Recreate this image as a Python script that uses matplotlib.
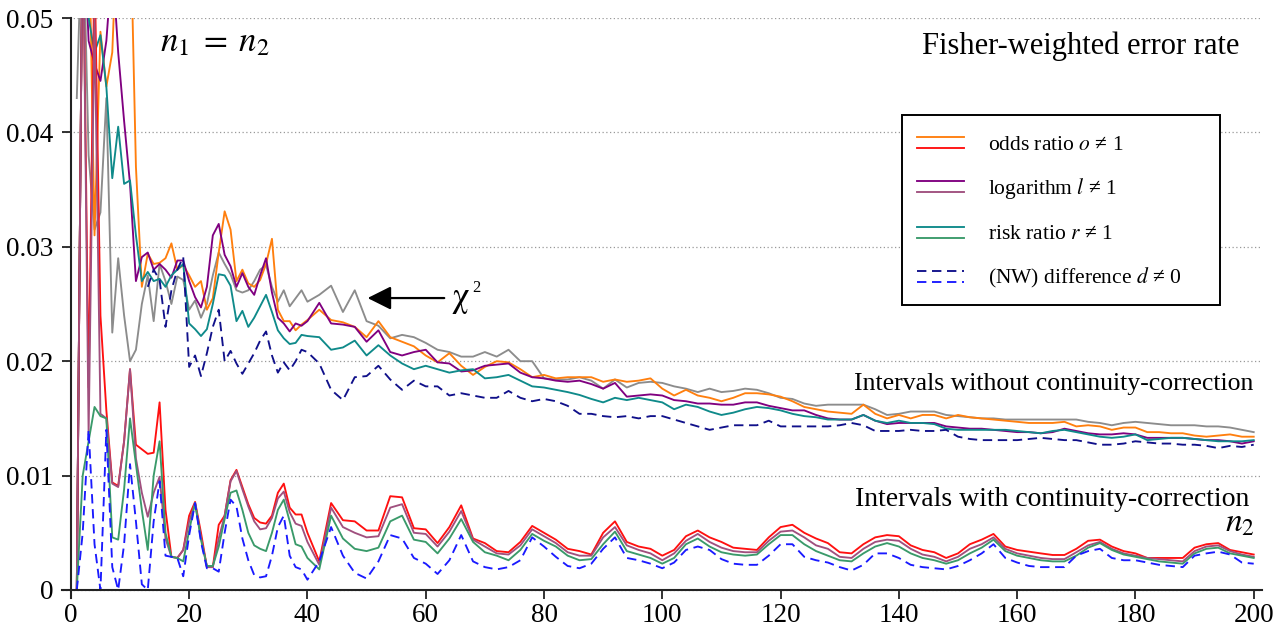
import matplotlib
matplotlib.use("Agg")
import matplotlib.pyplot as plt
import numpy as np
from matplotlib.legend_handler import HandlerBase
from matplotlib.lines import Line2D

plt.rcParams["font.family"] = ["Liberation Serif", "DejaVu Serif"]
plt.rcParams["mathtext.fontset"] = "stix"

# n2 grid: every unit up to 40, then every second unit
N2 = list(range(1, 41)) + list(range(42, 201, 2))

# error rates in 1/1000, intervals WITHOUT continuity correction
odds_plain = [
    0, 60, 60, 31, 48.8, 44, 47, 60, 60, 60,
    37, 26.5, 29.4, 28.5, 28.6, 29.0, 30.3, 28.0, 28.4, 27.5,
    26.5, 27.0, 24.5, 25.5, 29.5, 33.1, 31.5, 27.0, 28.0, 26.8,
    26.5, 27.1, 28.5, 30.7, 24.5, 23.5, 23.5, 22.7, 23.2, 23.6,
    24.5, 23.6, 23.4, 23.0, 22.1, 23.5, 22.1, 21.7, 21.3, 20.5,
    19.9, 20.7, 19.6, 18.8, 19.5, 20.0, 19.9, 19.3, 18.6, 18.8,
    18.5, 18.6, 18.6, 18.6, 18.2, 18.4, 18.2, 18.3, 18.5, 17.6,
    17.0, 17.5, 17.0, 16.8, 16.5, 16.8, 17.2, 17.2, 17.1, 16.9,
    16.5, 16.0, 15.8, 15.6, 15.5, 15.4, 16.2, 15.4, 15.0, 15.3,
    15.0, 15.3, 15.3, 15.0, 15.3, 15.1, 15.0, 14.9, 14.8, 14.7,
    14.6, 14.6, 14.6, 14.7, 14.3, 14.4, 14.3, 14.0, 14.2, 14.2,
    13.8, 13.8, 13.7, 13.7, 13.5, 13.4, 13.5, 13.6, 13.4, 13.4,
]
log_plain = [
    0, 60, 48, 46, 44.5, 48, 55, 47, 41, 35.5,
    27, 29.1, 29.5, 28.0, 28.5, 28.0, 27.3, 28.8, 28.8, 27.0,
    25.6, 24.7, 26.5, 31.0, 32.0, 29.3, 28.3, 26.5, 27.7, 26.5,
    25.8, 27.5, 29.0, 26.0, 23.8, 23.3, 22.6, 23.3, 23.1, 23.5,
    25.1, 23.3, 23.2, 23.0, 21.7, 22.7, 20.8, 20.5, 20.8, 21.0,
    19.9, 19.8, 19.1, 19.2, 19.6, 19.7, 19.8, 19.0, 18.6, 18.5,
    18.3, 18.2, 18.3, 18.0, 17.6, 18.1, 16.9, 17.0, 17.1, 17.0,
    16.6, 16.5, 16.3, 16.3, 16.2, 16.2, 16.4, 16.4, 16.1, 15.9,
    15.7, 15.7, 15.3, 15.0, 14.9, 14.9, 15.3, 14.8, 14.5, 14.6,
    14.6, 14.6, 14.6, 14.3, 14.2, 14.1, 14.1, 14.0, 13.9, 13.8,
    13.8, 13.7, 13.8, 14.1, 13.9, 13.7, 13.6, 13.6, 13.7, 13.6,
    13.3, 13.3, 13.3, 13.3, 13.2, 13.1, 13.1, 13.0, 12.8, 13.0,
]
risk_plain = [
    0, 60, 50, 47, 48.5, 44, 36, 40.5, 35.5, 35.8,
    31, 27, 27.8, 27.0, 27.2, 26.5, 27.5, 28.0, 28.5, 23.3,
    22.8, 22.2, 22.8, 25.0, 27.6, 27.5, 26.6, 23.5, 24.4, 23.0,
    23.8, 24.8, 25.8, 24.3, 22.7, 22.0, 21.5, 21.6, 22.3, 22.2,
    22.1, 21.0, 21.2, 21.8, 20.5, 21.4, 20.5, 19.8, 19.3, 19.6,
    19.3, 19.0, 19.2, 19.3, 18.5, 18.6, 18.8, 18.3, 17.8, 17.7,
    17.5, 17.3, 17.05, 16.7, 16.4, 16.8, 16.6, 16.8, 16.6, 16.4,
    15.8, 16.2, 16.0, 15.6, 15.3, 15.5, 15.8, 16.0, 15.9, 15.7,
    15.4, 15.2, 15.1, 14.9, 14.9, 14.9, 15.3, 14.8, 14.6, 14.8,
    14.6, 14.6, 14.5, 14.1, 14.0, 14.0, 14.0, 14.0, 14.0, 13.9,
    13.8, 13.7, 13.9, 14.0, 13.8, 13.6, 13.4, 13.3, 13.4, 13.6,
    13.1, 13.2, 13.3, 13.3, 13.2, 13.1, 13.0, 13.0, 13.0, 13.1,
]
diff_plain = [
    np.nan, np.nan, np.nan, np.nan, np.nan, np.nan, np.nan, np.nan, np.nan, np.nan,
    np.nan, np.nan, 26.5, 28.0, 27.1, 23.0, 26.2, 28.0, 29.1, 19.5,
    20.5, 18.7, 20.7, 23.0, 24.5, 20.0, 20.9, 19.8, 18.9, 19.8,
    20.7, 21.8, 22.6, 20.5, 19.0, 19.9, 19.2, 20.0, 21.0, 20.8,
    19.8, 17.5, 16.6, 18.6, 18.7, 19.6, 18.4, 17.5, 18.3, 17.8,
    17.8, 17.0, 17.2, 17.0, 16.8, 16.8, 17.4, 16.8, 16.5, 16.7,
    16.5, 16.1, 15.4, 15.4, 15.2, 15.1, 15.2, 15.0, 15.2, 15.2,
    14.9, 14.6, 14.3, 14.0, 14.2, 14.4, 14.4, 14.4, 14.8, 14.3,
    14.3, 14.3, 14.3, 14.3, 14.4, 14.6, 14.4, 13.9, 13.9, 13.9,
    14.0, 13.9, 13.9, 14.0, 13.4, 13.2, 13.1, 13.1, 13.1, 13.1,
    13.2, 13.3, 13.2, 13.1, 13.1, 12.9, 12.7, 12.7, 12.8, 13.0,
    12.9, 12.8, 12.8, 12.7, 12.7, 12.6, 12.4, 12.6, 12.5, 12.7,
]
chi2_plain = [
    43, 60, 38, 31.5, 33, 43, 22.5, 29, 24, 20,
    21, 25, 27.5, 23.5, 28.5, 27.0, 25.0, 27.4, 27.1, 24.5,
    25.3, 23.8, 25.0, 27.5, 29.5, 28.5, 27.6, 26.2, 26.0, 26.2,
    27.0, 28.0, 28.4, 26.5, 25.2, 26.2, 24.8, 25.5, 26.2, 25.2,
    25.8, 26.6, 24.3, 26.2, 23.5, 23.1, 22.0, 22.3, 22.1, 21.6,
    21.0, 20.8, 20.4, 20.4, 20.8, 20.4, 21.0, 20.0, 20.0, 18.5,
    18.4, 18.4, 18.6, 18.3, 17.6, 18.4, 17.7, 18.1, 18.2, 18.1,
    17.8, 17.6, 17.3, 17.6, 17.3, 17.4, 17.6, 17.5, 17.2, 16.8,
    16.7, 16.3, 16.1, 16.2, 16.2, 16.2, 16.2, 15.8, 15.3, 15.4,
    15.6, 15.6, 15.6, 15.3, 15.2, 15.1, 15.0, 15.0, 14.9, 14.9,
    14.9, 14.9, 14.9, 14.9, 14.9, 14.7, 14.6, 14.4, 14.6, 14.7,
    14.6, 14.5, 14.4, 14.4, 14.4, 14.3, 14.3, 14.2, 14.0, 13.8,
]

# error rates in 1/1000, intervals WITH continuity correction
odds_cc = [
    0, 60, 17.7, 55, 24, 15.7, 9.4, 9.1, 13, 19.3,
    12.7, 12.3, 11.9, 12.0, 16.4, 7.0, 2.9, 2.8, 3.5, 6.5,
    7.7, 5.0, 2.0, 2.0, 5.7, 6.5, 9.6, 10.5, 9.0, 7.5,
    6.3, 5.9, 5.8, 6.5, 8.5, 9.3, 7.2, 6.6, 6.6, 5.0,
    2.5, 7.6, 6.1, 6.0, 5.2, 5.2, 8.2, 8.1, 5.4, 5.3,
    4.1, 5.5, 7.4, 4.5, 4.1, 3.4, 3.3, 4.2, 5.6, 5.0,
    4.4, 3.6, 3.4, 3.1, 5.0, 6.0, 4.2, 3.8, 3.6, 3.0,
    3.5, 4.7, 5.2, 4.6, 4.2, 3.7, 3.6, 3.5, 4.6, 5.5,
    5.7, 5.0, 4.5, 4.1, 3.3, 3.2, 4.0, 4.6, 4.8, 4.7,
    3.9, 3.5, 3.3, 2.8, 3.2, 4.0, 4.4, 4.9, 3.8, 3.5,
    3.35, 3.2, 3.06, 3.06, 3.6, 4.3, 4.4, 3.8, 3.4, 3.2,
    2.8, 2.8, 2.8, 2.8, 3.7, 4.0, 4.1, 3.5, 3.3, 3.1,
]
log_cc = [
    0, 60, 13.6, 50, 15.4, 15.0, 9.3, 9.0, 13, 19.3,
    11.5, 8.5, 6.4, 8.5, 9.9, 4.5, 2.9, 2.8, 3.5, 6.0,
    7.6, 4.6, 2.0, 2.0, 4.5, 6.5, 9.5, 10.4, 8.8, 7.3,
    6.0, 5.3, 5.4, 6.3, 8.0, 8.6, 6.8, 5.8, 5.6, 4.2,
    2.2, 7.2, 5.5, 5.0, 4.6, 4.7, 7.2, 7.5, 5.0, 4.9,
    3.8, 5.1, 6.9, 4.4, 3.8, 3.2, 3.1, 3.9, 5.3, 4.7,
    4.1, 3.3, 3.0, 3.0, 4.6, 5.5, 3.9, 3.5, 3.2, 2.6,
    3.2, 4.3, 4.9, 4.2, 3.7, 3.4, 3.3, 3.3, 4.3, 5.1,
    5.2, 4.6, 3.9, 3.6, 2.9, 2.8, 3.6, 4.2, 4.4, 4.3,
    3.6, 3.1, 2.9, 2.5, 2.9, 3.6, 4.0, 4.6, 3.6, 3.2,
    3.0, 2.8, 2.7, 2.7, 3.3, 3.9, 4.2, 3.6, 3.2, 3.0,
    2.8, 2.7, 2.6, 2.5, 3.4, 3.8, 3.9, 3.4, 3.1, 2.9,
]
risk_cc = [
    0, 10, 13, 16, 15.2, 15.0, 4.6, 4.4, 8.8, 15.0,
    11.0, 7.0, 3.5, 10.0, 13.0, 5.0, 2.9, 2.8, 2.5, 5.2,
    7.6, 4.4, 2.1, 2.1, 3.8, 6.2, 8.5, 8.7, 7.0, 5.0,
    3.9, 3.6, 3.4, 5.0, 7.0, 7.9, 6.0, 4.0, 3.8, 2.8,
    1.8, 6.5, 4.5, 3.6, 3.4, 3.7, 6.0, 6.5, 4.4, 4.2,
    3.2, 4.5, 6.2, 4.2, 3.3, 3.0, 2.6, 3.5, 4.9, 4.3,
    3.8, 3.0, 2.6, 2.7, 4.0, 5.1, 3.4, 3.1, 2.8, 2.3,
    2.8, 4.0, 4.5, 3.8, 3.3, 3.1, 3.0, 3.1, 4.0, 4.8,
    4.8, 4.0, 3.4, 3.0, 2.6, 2.5, 3.2, 3.8, 4.1, 3.8,
    3.2, 2.8, 2.6, 2.3, 2.6, 3.2, 3.7, 4.4, 3.4, 3.0,
    2.8, 2.6, 2.5, 2.5, 3.0, 3.7, 4.1, 3.5, 3.1, 2.9,
    2.7, 2.5, 2.4, 2.3, 3.2, 3.6, 3.7, 3.2, 3.0, 2.8,
]
diff_cc = [
    0, 5, 14, 4, 0, 14, 2, 0, 4, 11,
    6, 0.5, 0, 6, 9.5, 3, 2.9, 2.8, 1.2, 4.8,
    7.6, 4.2, 1.9, 1.9, 1.6, 5.0, 7.9, 7.3, 4.5, 2.6,
    1.3, 1.1, 1.2, 3.0, 5.5, 6.5, 3.0, 2.0, 1.8, 0.9,
    2.5, 5.5, 3.0, 1.5, 1.0, 2.5, 4.8, 4.5, 2.8, 2.3,
    1.4, 2.6, 4.8, 2.5, 2.0, 1.8, 2.0, 2.6, 4.6, 3.8,
    2.9, 2.1, 1.9, 2.3, 3.6, 4.6, 2.8, 2.6, 2.3, 1.9,
    2.4, 3.5, 3.8, 3.5, 2.7, 2.3, 2.2, 2.2, 3.0, 4.0,
    4.0, 2.9, 2.6, 2.4, 2.0, 1.7, 2.2, 3.2, 3.2, 2.8,
    2.2, 2.0, 1.9, 1.8, 2.1, 2.6, 3.2, 4.0, 2.8, 2.4,
    2.1, 2.0, 2.0, 2.0, 3.0, 3.4, 3.6, 2.8, 2.6, 2.6,
    2.4, 2.2, 2.1, 2.0, 3.0, 3.2, 3.35, 3.1, 2.4, 2.3,
]

legend_labels = [
    "odds ratio $o$ \u2260 1",
    "logarithm $l$ \u2260 1",
    "risk ratio $r$ \u2260 1",
    "(NW) difference $d$ \u2260 0",
]

DASH = (0, (5, 3))


class PairHandler(HandlerBase):
    # two stacked sample lines per legend entry
    def create_artists(self, legend, orig_handle, xdescent, ydescent,
                       width, height, fontsize, trans):
        out = []
        for k, src in enumerate(orig_handle):
            y = -ydescent + height * (0.72 - 0.44 * k)
            ln = Line2D([-xdescent, -xdescent + width], [y, y])
            ln.update_from(src)
            ln.set_transform(trans)
            out.append(ln)
        return out


fig = plt.figure(figsize=(12.83, 6.32), dpi=100)
ax = fig.add_axes([62 / 1283, 1 - 598 / 632, 1200 / 1283, 580 / 632])

n2 = np.array(N2)
k = 1e-3
lw = 1.35

l_chi, = ax.plot(n2, np.array(chi2_plain) * k, color="#8c8c8c", lw=lw)
l_odds, = ax.plot(n2, np.array(odds_plain) * k, color="#ff7f0e", lw=lw)
l_log, = ax.plot(n2, np.array(log_plain) * k, color="#800080", lw=lw)
l_risk, = ax.plot(n2, np.array(risk_plain) * k, color="#0f8a8a", lw=lw)
l_diff, = ax.plot(n2, np.array(diff_plain) * k, color="#10108a", lw=lw, linestyle=DASH)

c_odds, = ax.plot(n2, np.array(odds_cc) * k, color="#ff1010", lw=lw)
c_log, = ax.plot(n2, np.array(log_cc) * k, color="#a0507e", lw=lw)
c_risk, = ax.plot(n2, np.array(risk_cc) * k, color="#3a9a6a", lw=lw)
c_diff, = ax.plot(n2, np.array(diff_cc) * k, color="#1a1aff", lw=lw, linestyle=DASH)

ax.set_xlim(-1.5, 201.4)
ax.set_ylim(-0.0007, 0.05)

for side in ("top", "right"):
    ax.spines[side].set_visible(False)
ax.spines["left"].set_position(("data", 0))
ax.spines["bottom"].set_position(("data", 0))
for side in ("left", "bottom"):
    ax.spines[side].set_linewidth(1.5)
    ax.spines[side].set_color("#222222")

ax.set_xticks(range(0, 201, 20))
ax.set_yticks([0, 0.01, 0.02, 0.03, 0.04, 0.05])
ax.set_yticklabels(["0", "0.01", "0.02", "0.03", "0.04", "0.05"])
ax.tick_params(direction="out", length=6.5, width=1.3, color="#222222", labelsize=19.5)
ax.tick_params(axis="y", pad=6)
ax.tick_params(axis="x", pad=3)
ax.yaxis.grid(True, linestyle=(0, (1, 2)), color="#999999", lw=0.9)
ax.set_axisbelow(True)

ax.text(15.0, 0.0478, r"$n_1\;=\;n_2$", fontsize=25, ha="left", va="center")
ax.text(197.6, 0.0475, "Fisher-weighted error rate", fontsize=22, ha="right", va="center")
ax.text(200, 0.0180, "Intervals without continuity-correction", fontsize=18.5,
        ha="right", va="center")
ax.text(199.2, 0.0079, "Intervals with continuity-correction", fontsize=20,
        ha="right", va="center")
ax.text(200.2, 0.0058, r"$n_2$", fontsize=24, ha="right", va="center")

ax.annotate("", xy=(49.7, 0.02552), xytext=(63.6, 0.02552),
            arrowprops=dict(arrowstyle="-|>", color="black", lw=1.6, mutation_scale=36))
ax.text(64.3, 0.0255, "\u03c7", fontsize=25, family="STIXGeneral", ha="left", va="center")
ax.text(67.8, 0.0264, "2", fontsize=12, ha="left", va="center")

leg = ax.legend(
    [(l_odds, c_odds), (l_log, c_log), (l_risk, c_risk), (l_diff, c_diff)],
    legend_labels,
    handler_map={tuple: PairHandler()},
    loc="upper left", bbox_to_anchor=(0.70, 0.833, 0.265, 0), mode="expand",
    fontsize=15.5, handlelength=2.2, handleheight=1.45, handletextpad=1.1,
    labelspacing=0.86, borderpad=0.7, borderaxespad=0,
    fancybox=False, edgecolor="black", framealpha=1,
)
leg.get_frame().set_linewidth(1.4)

fig.savefig("out.png", dpi=100)
